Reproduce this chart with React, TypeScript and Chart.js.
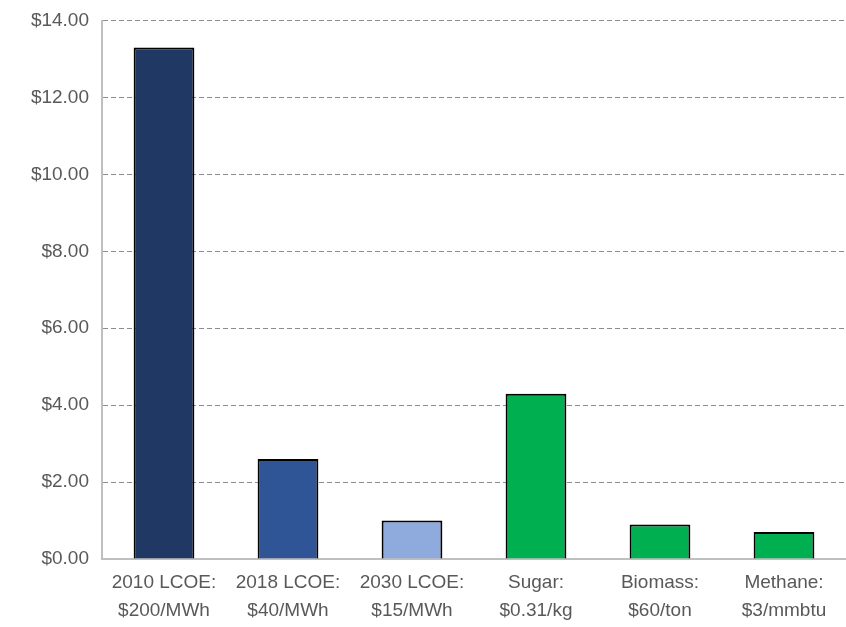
import React, { useEffect, useRef } from "react";
import { Chart, registerables } from "chart.js";

Chart.register(...registerables);

const categories: string[][] = [
  ["2010 LCOE:", "$200/MWh"],
  ["2018 LCOE:", "$40/MWh"],
  ["2030 LCOE:", "$15/MWh"],
  ["Sugar:", "$0.31/kg"],
  ["Biomass:", "$60/ton"],
  ["Methane:", "$3/mmbtu"],
];
const values: number[] = [13.3, 2.6, 1.0, 4.3, 0.9, 0.7];
const barColors: string[] = ["#203864", "#2F5597", "#8FAADC", "#00B050", "#00B050", "#00B050"];
const yMin = 0;
const yMax = 14;
const yStep = 2;

export default function App() {
  const ref = useRef<HTMLCanvasElement | null>(null);
  useEffect(() => {
    if (!ref.current) return;
    const family = "'Liberation Sans', Arial, sans-serif";
    const chart = new Chart(ref.current, {
      type: "bar",
      data: {
        labels: categories,
        datasets: [
          {
            data: values,
            backgroundColor: barColors,
            borderColor: "#000000",
            borderWidth: 2,
            borderSkipped: "bottom",
            categoryPercentage: 1,
            barPercentage: 0.49,
          },
        ],
      },
      options: {
        animation: false,
        responsive: false,
        maintainAspectRatio: false,
        layout: { padding: { top: 16, left: 0, right: 0, bottom: 0 } },
        plugins: { legend: { display: false }, tooltip: { enabled: false } },
        scales: {
          x: {
            grid: { display: false, drawTicks: false },
            border: { display: true, color: "#BFBFBF", width: 2 },
            ticks: {
              color: "#595959",
              font: { family, size: 19, lineHeight: 1.45 },
              padding: 10,
              maxRotation: 0,
              autoSkip: false,
            },
            afterFit: (s: any) => {
              s.height = 68;
            },
          },
          y: {
            min: yMin,
            max: yMax,
            grid: { color: "#8C8C8C", lineWidth: 1, drawTicks: false },
            border: { display: true, color: "#BFBFBF", width: 2, dash: [5, 3] },
            ticks: {
              stepSize: yStep,
              color: "#595959",
              font: { family, size: 19, lineHeight: 0.8 },
              padding: 13,
              callback: (v: any) => "$" + Number(v).toFixed(2),
            },
            afterFit: (s: any) => {
              s.width = 102;
            },
          },
        },
      } as any,
    });
    return () => chart.destroy();
  }, []);
  return (
    <div style={{ position: "fixed", left: 0, top: 0, width: 846, height: 627, background: "#fff" }}>
      <canvas ref={ref} width={846} height={627} />
    </div>
  );
}
